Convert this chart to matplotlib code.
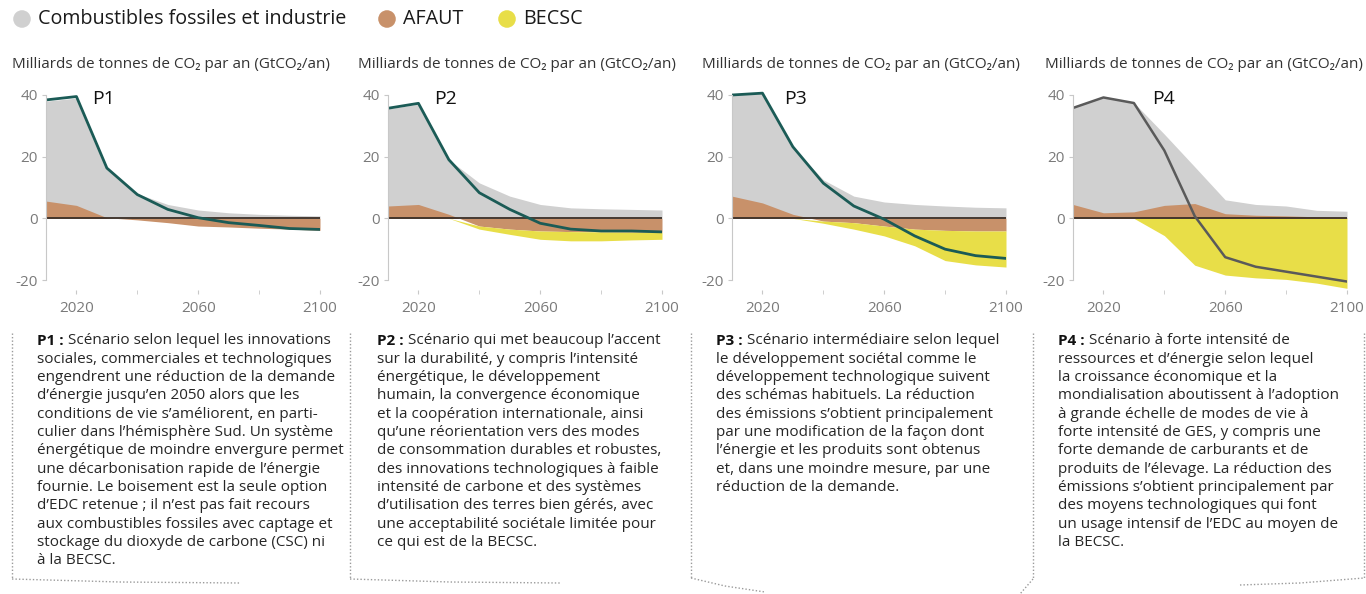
import numpy as np
import matplotlib
matplotlib.use("Agg")
import matplotlib.pyplot as plt

plt.rcParams['font.family'] = ['Open Sans', 'Noto Sans', 'DejaVu Sans']

# --- data (GtCO2/an) ---
years = [2010, 2020, 2030, 2040, 2050, 2060, 2070, 2080, 2090, 2100]

fossil_p1 = [38.0, 39.0, 16.0, 8.0, 4.5, 2.7, 1.8, 1.3, 1.0, 0.8]
afolu_p1 = [5.6, 4.2, 0.2, -0.5, -1.4, -2.5, -2.8, -3.2, -3.5, -3.9]
beccs_p1 = [0, 0, 0, 0, 0, 0, 0, 0, 0, 0]
net_p1 = [38.4, 39.5, 16.3, 7.7, 2.9, 0.2, -1.4, -2.3, -3.3, -3.6]

fossil_p2 = [35.5, 37.0, 19.0, 11.5, 7.2, 4.5, 3.4, 3.1, 2.9, 2.7]
afolu_p2 = [4.0, 4.5, 1.3, -2.5, -3.5, -4.1, -4.3, -4.4, -4.5, -4.5]
beccs_p2 = [0, 0, 0, -1.0, -1.7, -2.7, -3.0, -2.9, -2.5, -2.3]
net_p2 = [35.7, 37.3, 19.0, 8.3, 2.9, -1.6, -3.5, -4.1, -4.1, -4.4]

fossil_p3 = [40.0, 40.5, 23.0, 12.5, 7.2, 5.3, 4.5, 4.0, 3.6, 3.4]
afolu_p3 = [7.2, 5.0, 1.3, -0.9, -1.4, -2.5, -3.5, -3.9, -4.1, -4.1]
beccs_p3 = [0, 0, 0, -0.7, -2.1, -3.2, -5.4, -9.8, -11.0, -11.7]
net_p3 = [40.0, 40.6, 23.2, 11.4, 4.0, -0.3, -5.7, -10.0, -12.1, -13.0]

fossil_p4 = [36.0, 39.5, 37.5, 27.3, 16.7, 6.0, 4.5, 4.0, 2.6, 2.3]
afolu_p4 = [4.5, 1.8, 2.1, 4.2, 4.8, 1.5, 1.0, 0.8, 0.5, 0.2]
beccs_p4 = [0, 0, 0, -5.6, -15.2, -18.4, -19.3, -19.8, -21.0, -22.7]
net_p4 = [35.8, 39.2, 37.4, 22.0, 0.7, -12.6, -15.7, -17.3, -18.9, -20.5]

panels = ["P1", "P2", "P3", "P4"]
fossil = [fossil_p1, fossil_p2, fossil_p3, fossil_p4]
afolu = [afolu_p1, afolu_p2, afolu_p3, afolu_p4]
beccs = [beccs_p1, beccs_p2, beccs_p3, beccs_p4]
net = [net_p1, net_p2, net_p3, net_p4]

legend_labels = ["Combustibles fossiles et industrie", "AFAUT", "BECSC"]
ylabel = "Milliards de tonnes de CO\u2082 par an (GtCO\u2082/an)"

desc_p1 = ["Scénario selon lequel les innovations",
           "sociales, commerciales et technologiques",
           "engendrent une réduction de la demande",
           "d’énergie jusqu’en 2050 alors que les",
           "conditions de vie s’améliorent, en parti-",
           "culier dans l’hémisphère Sud. Un système",
           "énergétique de moindre envergure permet",
           "une décarbonisation rapide de l’énergie",
           "fournie. Le boisement est la seule option",
           "d’EDC retenue ; il n’est pas fait recours",
           "aux combustibles fossiles avec captage et",
           "stockage du dioxyde de carbone (CSC) ni",
           "à la BECSC."]
desc_p2 = ["Scénario qui met beaucoup l’accent",
           "sur la durabilité, y compris l’intensité",
           "énergétique, le développement",
           "humain, la convergence économique",
           "et la coopération internationale, ainsi",
           "qu’une réorientation vers des modes",
           "de consommation durables et robustes,",
           "des innovations technologiques à faible",
           "intensité de carbone et des systèmes",
           "d’utilisation des terres bien gérés, avec",
           "une acceptabilité sociétale limitée pour",
           "ce qui est de la BECSC."]
desc_p3 = ["Scénario intermédiaire selon lequel",
           "le développement sociétal comme le",
           "développement technologique suivent",
           "des schémas habituels. La réduction",
           "des émissions s’obtient principalement",
           "par une modification de la façon dont",
           "l’énergie et les produits sont obtenus",
           "et, dans une moindre mesure, par une",
           "réduction de la demande."]
desc_p4 = ["Scénario à forte intensité de",
           "ressources et d’énergie selon lequel",
           "la croissance économique et la",
           "mondialisation aboutissent à l’adoption",
           "à grande échelle de modes de vie à",
           "forte intensité de GES, y compris une",
           "forte demande de carburants et de",
           "produits de l’élevage. La réduction des",
           "émissions s’obtient principalement par",
           "des moyens technologiques qui font",
           "un usage intensif de l’EDC au moyen de",
           "la BECSC."]
descs = [desc_p1, desc_p2, desc_p3, desc_p4]

# --- styles / layout ---
c_gray = '#d0d0d0'
c_brown = '#c8916a'
c_yellow = '#e8de48'
c_teal = '#1b5b56'
c_p4 = '#5a5a5a'
c_text = '#262626'

W, H = 1366, 594
fig = plt.figure(figsize=(W / 100, H / 100), dpi=100)

# overlay in pixel coordinates for legend, texts and dotted frames
ov = fig.add_axes([0, 0, 1, 1])
ov.set_xlim(0, W)
ov.set_ylim(H, 0)
ov.axis('off')

leg_x = [22, 387, 507]
for lx, lab, c in zip(leg_x, legend_labels, [c_gray, c_brown, c_yellow]):
    ov.scatter([lx], [19], s=160, color=c, edgecolor='none')
    ov.text(lx + 16, 19, lab, fontsize=14.2, color='#1a1a1a', va='center', ha='left')

ax_x0 = [46, 388, 732, 1073]
ax_w = 274
ylim = (-24.5, 42)
px_per_unit = (280 - 95) / 60.0
ax_top = 95 - (ylim[1] - 40) * px_per_unit
ax_bot = 280 + (-20 - ylim[0]) * px_per_unit
label_x = [2025, 2025, 2027, 2036]
ylabel_x = [12, 358, 702, 1045]

for i in range(4):
    x0 = ax_x0[i]
    ax = fig.add_axes([x0 / W, 1 - ax_bot / H, ax_w / W, (ax_bot - ax_top) / H])
    ax.patch.set_alpha(0)
    yr = np.array(years)
    f = np.array(fossil[i])
    a = np.array(afolu[i])
    b = np.array(beccs[i])
    base = np.minimum(a, 0)
    ax.fill_between(yr, 0, f, color=c_gray, lw=0)
    ax.fill_between(yr, 0, a, color=c_brown, lw=0)
    if np.any(b < 0):
        ax.fill_between(yr, base, base + b, color=c_yellow, lw=0)
    ax.plot([years[0], years[-1]], [0, 0], color='#3a2e26', lw=1.3)
    ax.plot(yr, net[i], color=c_p4 if i == 3 else c_teal, lw=2.0 if i < 3 else 1.8)

    ax.set_xlim(2010, 2100)
    ax.set_ylim(*ylim)
    for s in ['top', 'right', 'bottom']:
        ax.spines[s].set_visible(False)
    ax.spines['left'].set_color('#c8c8c8')
    ax.spines['left'].set_bounds(-20, 40)
    ax.set_yticks([-20, 0, 20, 40])
    ax.set_yticklabels(['-20', '0', '20', '40'])
    ax.set_xticks([2020, 2060, 2100])
    ax.set_xticks([2040, 2080], minor=True)
    ax.tick_params(axis='y', colors='#c8c8c8', labelcolor='#7a7a7a', labelsize=11,
                   length=3, pad=3)
    ax.tick_params(axis='x', which='both', direction='in', colors='#c8c8c8',
                   labelcolor='#7a7a7a', labelsize=11, length=3, pad=5)
    ax.text(label_x[i], 38.6, panels[i], fontsize=14, color='#111111',
            ha='left', va='center')
    ov.text(ylabel_x[i], 65, ylabel, fontsize=11, color='#333333', va='center', ha='left')

# description boxes
text_x = [37, 377, 716, 1058]
line0 = 341
dy = 18.3
renderer = fig.canvas.get_renderer()
for i in range(4):
    lines = descs[i]
    pre = ov.text(text_x[i], line0, panels[i] + " :", fontsize=11, fontweight='bold',
                  color='#111111', va='center', ha='left')
    bb = pre.get_window_extent(renderer=renderer)
    ov.text(text_x[i] + bb.width + 4, line0, lines[0], fontsize=11, color=c_text,
            va='center', ha='left')
    for k, ln in enumerate(lines[1:], start=1):
        ov.text(text_x[i], line0 + k * dy, ln, fontsize=11, color=c_text,
                va='center', ha='left')

# dotted frames
dot = dict(color='#9a9a9a', lw=1.0, ls=(0, (1, 1.5)))
for vx in [12, 350, 691, 1033, 1364]:
    ov.plot([vx, vx], [333, 578], **dot)
ov.plot([12, 120, 240], [579, 582, 583], **dot)
ov.plot([350, 450, 560], [579, 582, 583], **dot)
ov.plot([691, 725, 765], [578, 586, 592], **dot)
ov.plot([1033, 1020], [579, 594], **dot)
ov.plot([1240, 1300, 1364], [585, 583, 578], **dot)

fig.savefig("out.png", dpi=100)
